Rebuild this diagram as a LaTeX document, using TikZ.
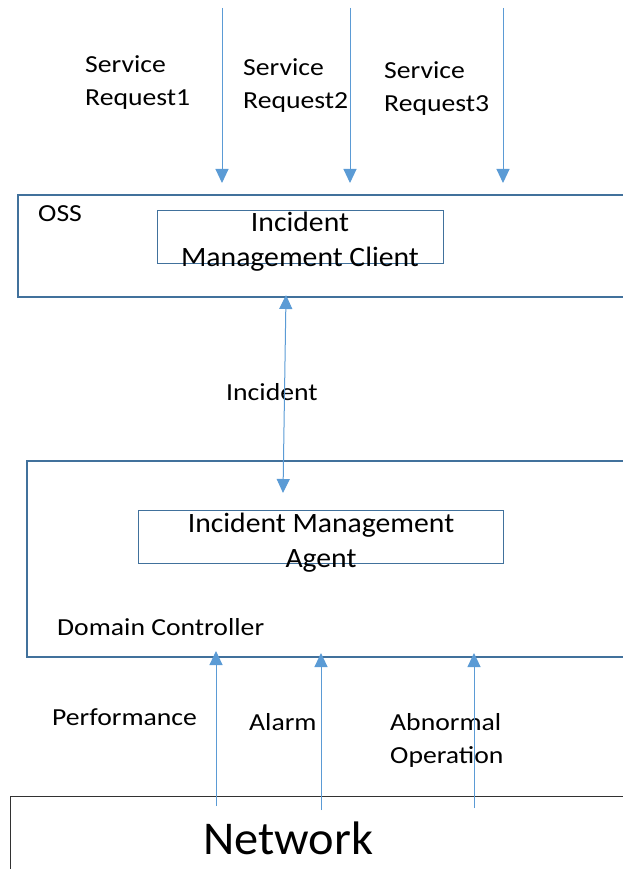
\documentclass[tikz,border=0pt]{standalone}
\usepackage{fontspec}
\setmainfont{Carlito}
\newfontfamily\lblfont[FakeStretch=1.13]{Carlito}
\newfontfamily\bigfont[FakeStretch=1.06]{Carlito}
\newfontfamily\netfont[FakeStretch=1.03]{Carlito}
\usetikzlibrary{arrows.meta}
\definecolor{boxblue}{RGB}{65,113,156}
\definecolor{arrblue}{RGB}{91,155,213}
\definecolor{netgray}{RGB}{50,50,50}
\begin{document}
\begin{tikzpicture}[x=1pt,y=-1pt,
  outerbox/.style={draw=boxblue, line width=2.2pt, inner sep=0pt},
  innerbox/.style={draw=boxblue, line width=0.9pt, inner sep=0pt},
  netbox/.style={draw=netgray, line width=0.9pt, inner sep=0pt},
  flow/.style={draw=arrblue, line width=1pt, -{Triangle[width=13pt,length=14pt]}},
  bothflow/.style={draw=arrblue, line width=1pt, {Triangle[width=13pt,length=14pt]}-{Triangle[width=13pt,length=14pt]}},
  lbl/.style={inner sep=0pt, anchor=west, align=left, font=\lblfont\fontsize{24.5}{33}\selectfont},
  biglbl/.style={inner sep=0pt, align=center, font=\bigfont\fontsize{28}{35}\selectfont},
]
\useasboundingbox (0,0) rectangle (623,869);
\clip (0,0) rectangle (623,869);

% boxes
\path[outerbox] (18,195) rectangle (640,297);
\path[outerbox] (27,461) rectangle (640,657);
\path[innerbox] (157,210) rectangle (443,263);
\path[innerbox] (138,510) rectangle (503,563);
\path[netbox] (10,796) rectangle (640,890);

% texts
\node[biglbl] (client) at (300,242) {Incident\\Management Client};
\node[biglbl] (agent) at (321,543) {Incident Management\\Agent};
\node[lbl] (oss) at (38,214) {OSS};
\node[lbl] (dc) at (57,627) {Domain Controller};
\node[lbl] (inc) at (226,392) {Incident};
\node[lbl] (sr1) at (85,83) {Service\\Request1};
\node[lbl] (sr2) at (243,86) {Service\\Request2};
\node[lbl] (sr3) at (384,89) {Service\\Request3};
\node[lbl] (perf) at (52,717) {Performance};
\node[lbl] (alarm) at (249,722) {Alarm};
\node[lbl] (abn) at (390,740) {Abnormal\\Operation};
\node[inner sep=0pt, font=\netfont\fontsize{47}{50}\selectfont] (net) at (288,838) {Network};

% connector end points
\coordinate (r1s) at (222,8);  \coordinate (r1e) at (222,183);
\coordinate (r2s) at (350,8);  \coordinate (r2e) at (350,183);
\coordinate (r3s) at (503,8);  \coordinate (r3e) at (503,183);
\coordinate (ia) at (286,295); \coordinate (ib) at (283,493);
\coordinate (p1) at (216,806); \coordinate (p2) at (216,651);
\coordinate (a1) at (321,810); \coordinate (a2) at (321,653);
\coordinate (o1) at (474,808); \coordinate (o2) at (474,653);

\draw[flow] (r1s) -- (r1e);
\draw[flow] (r2s) -- (r2e);
\draw[flow] (r3s) -- (r3e);
\draw[bothflow] (ia) -- (ib);
\draw[flow] (p1) -- (p2);
\draw[flow] (a1) -- (a2);
\draw[flow] (o1) -- (o2);
\end{tikzpicture}
\end{document}
